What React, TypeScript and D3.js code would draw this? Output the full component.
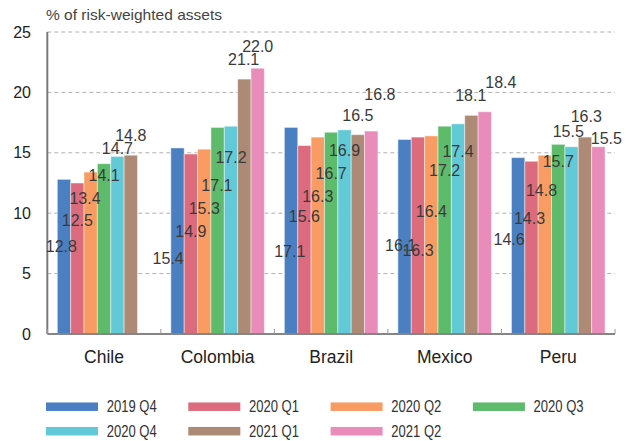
import React from "react";
import * as d3 from "d3";

const categories = ["Chile", "Colombia", "Brazil", "Mexico", "Peru"];
const seriesNames = ["2019 Q4", "2020 Q1", "2020 Q2", "2020 Q3", "2020 Q4", "2021 Q1", "2021 Q2"];
const seriesColors = ["#4a7fc1", "#dc6c7d", "#f89c63", "#5dbb6b", "#62c9d6", "#ad8a76", "#e98cba"];

const v2019Q4 = [12.8, 15.4, 17.1, 16.1, 14.6];
const v2020Q1 = [12.5, 14.9, 15.6, 16.3, 14.3];
const v2020Q2 = [13.4, 15.3, 16.3, 16.4, 14.8];
const v2020Q3 = [14.1, 17.1, 16.7, 17.2, 15.7];
const v2020Q4 = [14.7, 17.2, 16.9, 17.4, 15.5];
const v2021Q1 = [14.8, 21.1, 16.5, 18.1, 16.3];
const v2021Q2 = [null, 22.0, 16.8, 18.4, 15.5];

// where the value labels sit in the reference (axis units) and their sideways shift (in bar widths)
const labelAt2019Q4 = [7.28, 6.27, 6.81, 7.37, 7.84];
const labelAt2020Q1 = [9.44, 8.47, 9.71, 6.95, 9.58];
const labelAt2020Q2 = [11.23, 10.41, 11.37, 10.12, 11.92];
const labelAt2020Q3 = [13.16, 12.33, 13.3, 13.58, 14.26];
const labelAt2020Q4 = [15.37, 14.63, 15.17, 15.09, 16.75];
const labelAt2021Q1 = [16.47, 22.74, 18.13, 19.78, 17.99];
const labelAt2021Q2 = [null, 23.78, 19.87, 20.8, 16.2];

const shift2019Q4 = [-0.2, -0.7, -0.1, -0.3, -0.68];
const shift2020Q1 = [0, 0, 0, 0, -0.15];
const shift2020Q2 = [-0.43, 0, 0, 0, -0.25];
const shift2020Q3 = [0, -0.05, 0, 0, 0];
const shift2020Q4 = [0, 0, 0, 0, -0.25];
const shift2021Q1 = [0, -0.05, 0, -0.05, 0.1];
const shift2021Q2 = [0, 0, 0.65, 1.2, 0.6];

const yTicks = [0, 5, 10, 15, 20, 25];
const yTitle = "% of risk-weighted assets";

const seriesValues = [v2019Q4, v2020Q1, v2020Q2, v2020Q3, v2020Q4, v2021Q1, v2021Q2];
const seriesLabelAt = [labelAt2019Q4, labelAt2020Q1, labelAt2020Q2, labelAt2020Q3, labelAt2020Q4, labelAt2021Q1, labelAt2021Q2];
const seriesShift = [shift2019Q4, shift2020Q1, shift2020Q2, shift2020Q3, shift2020Q4, shift2021Q1, shift2021Q2];

const W = 634;
const H = 441;
const left = 47.3;
const right = 615;
const top = 32;
const bottom = 334;

export default function App() {
  const x0 = d3.scaleBand<string>().domain(categories).range([left, right]).padding(0);
  const bw = x0.bandwidth();
  const x1 = d3.scaleBand<string>().domain(seriesNames).range([10, bw - 10]).padding(0);
  const y = d3.scaleLinear().domain([0, 25]).range([bottom, top]);
  const barW = x1.bandwidth();
  const font = "'Liberation Sans', Arial, Helvetica, sans-serif";
  const boundaries = categories.map((c) => x0(c) as number).concat([right]);

  return (
    <svg width={W} height={H} style={{ position: "absolute", left: 0, top: 0, display: "block" }} fontFamily={font}>
      <rect x={0} y={0} width={W} height={H} fill="#fff" />
      <text x={46} y={15} dy="0.35em" fontSize={15} fill="#444" textLength={176} lengthAdjust="spacingAndGlyphs">{yTitle}</text>
      {yTicks.filter((t) => t > 0).map((t) => (
        <line key={"g" + t} x1={left} x2={right} y1={y(t)} y2={y(t)} stroke="#b0b0b0" strokeWidth={1} strokeDasharray="4,3" />
      ))}
      {yTicks.map((t) => (
        <text key={"t" + t} x={31} y={y(t)} dy="0.35em" textAnchor="end" fontSize={16} fill="#222">{t}</text>
      ))}
      {categories.map((c, ci) => (
        <g key={c}>
          {seriesNames.map((s, si) => {
            const v = seriesValues[si][ci];
            if (v == null) return null;
            const bx = (x0(c) as number) + (x1(s) as number);
            return (
              <rect key={s} x={bx} y={y(v)} width={barW} height={y(0) - y(v)} fill={seriesColors[si]} stroke="#ffffff" strokeOpacity={0.45} strokeWidth={1} />
            );
          })}
        </g>
      ))}
      <line x1={left} x2={left} y1={top} y2={bottom} stroke="#7a7a7a" strokeWidth={2} />
      <line x1={left} x2={right} y1={bottom} y2={bottom} stroke="#858585" strokeWidth={2} />
      {boundaries.map((bx, i) => (
        <line key={"xt" + i} x1={bx} x2={bx} y1={bottom} y2={bottom - 5} stroke="#999" strokeWidth={1} />
      ))}
      {categories.map((c, ci) =>
        seriesNames.map((s, si) => {
          const v = seriesValues[si][ci];
          const la = seriesLabelAt[si][ci];
          if (v == null || la == null) return null;
          const cx = (x0(c) as number) + (x1(s) as number) + barW / 2 + seriesShift[si][ci] * barW;
          return (
            <text key={c + s} x={cx} y={y(la)} dy="0.35em" textAnchor="middle" fontSize={16} fill="#3a3a3a">
              {v.toFixed(1)}
            </text>
          );
        })
      )}
      {categories.map((c) => (
        <text key={"c" + c} x={(x0(c) as number) + bw / 2} y={357} dy="0.35em" textAnchor="middle" fontSize={17.5} fill="#222">{c}</text>
      ))}
      {seriesNames.map((s, i) => {
        const col = i % 4;
        const row = Math.floor(i / 4);
        const lx = 46 + col * 142.3;
        const ly = 406.7 + row * 24.5;
        return (
          <g key={"l" + s}>
            <rect x={lx} y={ly - 4.25} width={52} height={8.5} fill={seriesColors[i]} />
            <text x={lx + 60.7} y={ly} dy="0.35em" fontSize={16} fill="#333" textLength={50} lengthAdjust="spacingAndGlyphs">{s}</text>
          </g>
        );
      })}
    </svg>
  );
}
